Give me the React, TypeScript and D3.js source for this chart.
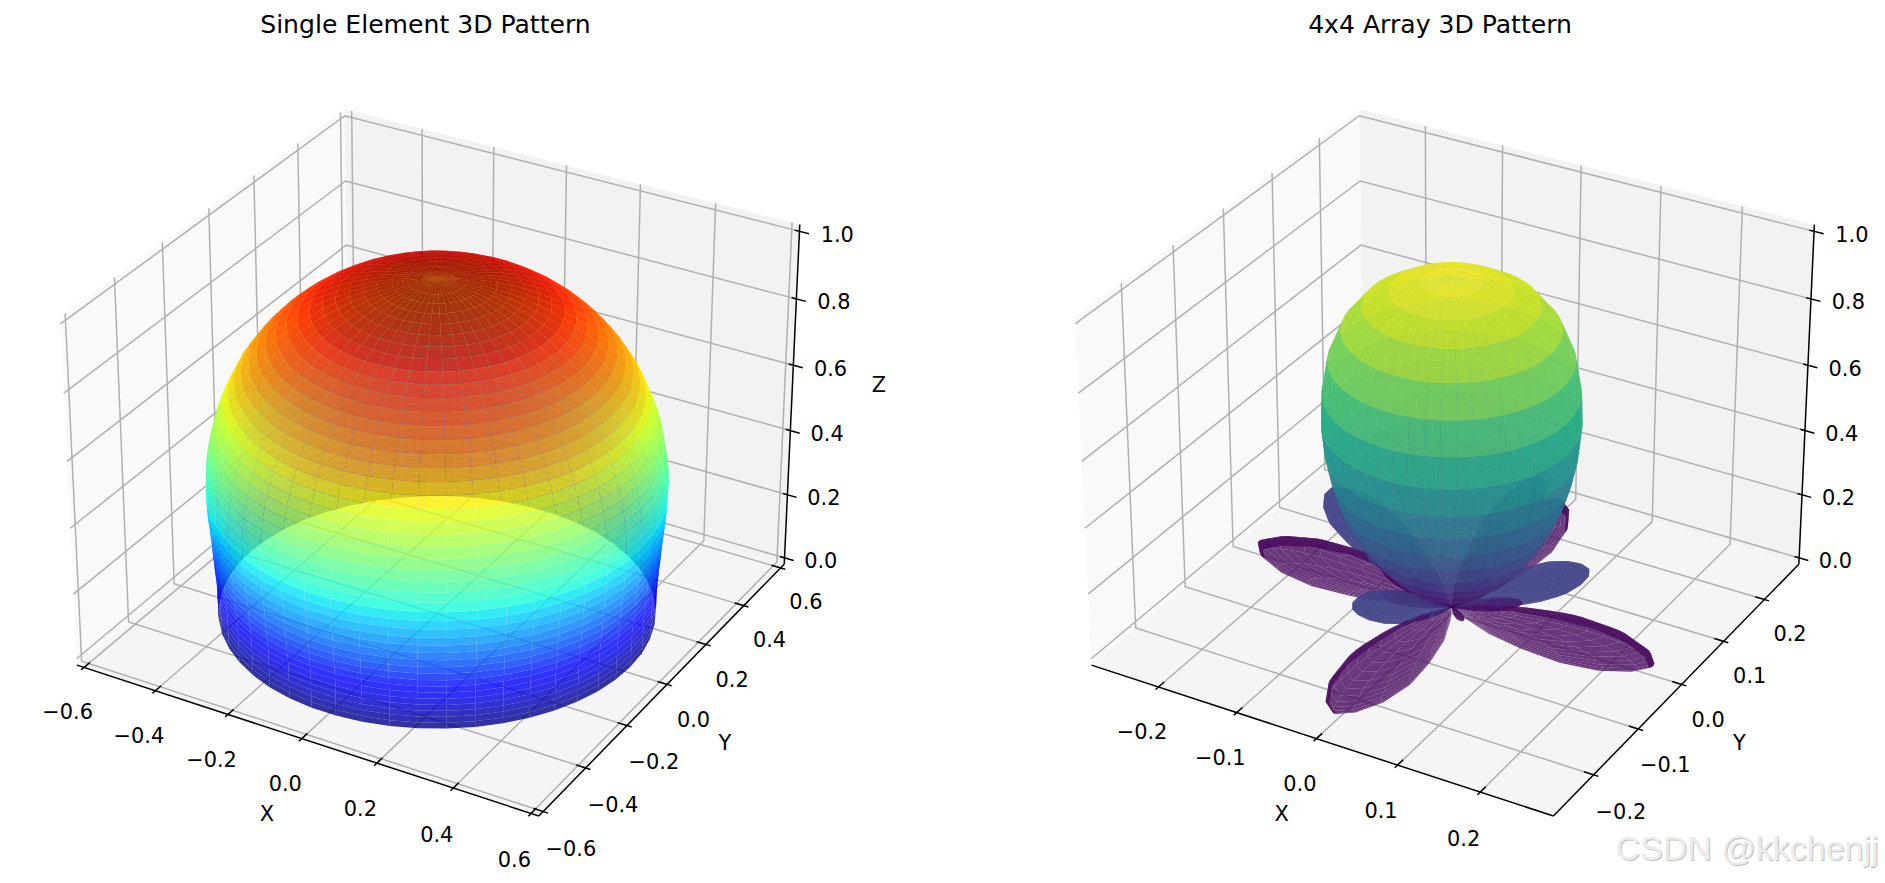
import React, { useEffect, useRef } from "react";
import * as d3 from "d3";

// axis ticks
const singleTicks = [-0.6, -0.4, -0.2, 0.0, 0.2, 0.4, 0.6];
const arrayTicks = [-0.2, -0.1, 0.0, 0.1, 0.2];
const zTicks = [0.0, 0.2, 0.4, 0.6, 0.8, 1.0];
const singleLimit = [-0.62, 0.62];
const arrayLimit = [-0.287, 0.287];
const zLimit = [-0.02, 1.02];

// single element radius read every 2 degrees of theta, pole to rim
const singleRadius = [
  0.995, 0.994, 0.992, 0.989, 0.985, 0.98, 0.974, 0.967, 0.959, 0.95, 0.94, 0.929, 0.917, 0.904, 0.89, 0.875,
  0.86, 0.844, 0.827, 0.81, 0.793, 0.776, 0.759, 0.741, 0.724, 0.707, 0.69, 0.673, 0.656, 0.64, 0.625, 0.61,
  0.597, 0.585, 0.575, 0.566, 0.557, 0.55, 0.543, 0.537, 0.533, 0.53, 0.527, 0.525, 0.524, 0.523,
];

// main lobe of the array, also every 2 degrees
const mainLobeRadius = [
  1.0, 0.985, 0.96, 0.92, 0.855, 0.77, 0.675, 0.585, 0.5, 0.425, 0.36, 0.3, 0.245, 0.195, 0.15, 0.09, 0.0,
];

// side lobes: theta (deg) and radius along the lobe axis
const lowLobeTheta = [62, 64, 66, 68, 70, 72, 74, 76, 78, 80, 82, 84, 86, 88, 90];
const lowLobeRadius = [0, 0.05, 0.09, 0.125, 0.155, 0.18, 0.2, 0.217, 0.23, 0.24, 0.247, 0.252, 0.254, 0.252, 0.247];
const sideLobeTheta = [46, 48, 50, 52, 54, 56, 58, 60, 62, 64, 66, 68, 70, 72, 74, 76, 78, 80, 82, 84, 86, 88, 90];
const sideLobeRadius = [
  0, 0.04, 0.07, 0.095, 0.115, 0.13, 0.145, 0.155, 0.163, 0.168, 0.17, 0.17, 0.168, 0.163, 0.155, 0.145, 0.13, 0.115,
  0.095, 0.07, 0.045, 0.02, 0,
];
const innerLobeTheta = [26, 28, 30, 32, 34, 36, 38, 40, 42, 44, 46, 48, 50, 52, 54, 56];
const innerLobeRadius = [0, 0.07, 0.13, 0.18, 0.22, 0.25, 0.265, 0.27, 0.265, 0.25, 0.225, 0.19, 0.15, 0.1, 0.05, 0];

// spread of a lobe around its azimuth
const spreadOffset = [-32, -27, -23, -18, -14, -9, -4, 0, 4, 9, 14, 18, 23, 27, 32];
const spreadShape = [0, 0.11, 0.28, 0.47, 0.66, 0.83, 0.95, 1, 0.95, 0.83, 0.66, 0.47, 0.28, 0.11, 0];
const sideSpreadOffset = [-36, -32, -27, -22, -17, -11, -5, 0, 5, 11, 17, 22, 27, 32, 36];
const sideSpreadShape = [0, 0.3, 0.52, 0.7, 0.83, 0.92, 0.98, 1, 0.98, 0.92, 0.83, 0.7, 0.52, 0.3, 0];

const lowLobeAzimuth = [0, 90, 180, 270];
const sideLobeAzimuth = [44, 156, 226, 318, 22, 205, 172];
const sideLobeScale = [1.0, 1.5, 0.72, 0.25, 0.5, 0.5, 0.62];
const sideLobeWidth = [0.75, 0.55, 1.1, 0.4, 0.5, 0.5, 0.5];
const sideLobeTone = [0.2, 0.2, 0.2, 0.02, 0.08, 0.08, 0.02];
const lowLobeTone = 0.02;

const jetRed = d3.scaleLinear().domain([0, 0.35, 0.66, 0.89, 1]).range([0, 0, 1, 1, 0.5]).clamp(true);
const jetGreen = d3.scaleLinear().domain([0, 0.125, 0.375, 0.64, 0.91, 1]).range([0, 0, 1, 1, 0, 0]).clamp(true);
const jetBlue = d3.scaleLinear().domain([0, 0.11, 0.34, 0.65, 1]).range([0.5, 1, 1, 0, 0]).clamp(true);
const jet = (t: number) => d3.rgb(jetRed(t) * 255, jetGreen(t) * 255, jetBlue(t) * 255).formatRgb();

const rad = Math.PI / 180;
const scale = 4447;
const dist = 10;
const boxX = 1.19;
const boxZ = 0.8926;
const fmt = (d: number) => d.toFixed(1).replace("-", "\u2212");

type Face = { points: [number, number][]; depth: number; color: string };

function makeProjection(cx: number, cy: number, lim: number[]) {
  const sx = d3.scaleLinear().domain(lim).range([-boxX / 2, boxX / 2]);
  const sz = d3.scaleLinear().domain(zLimit).range([-boxZ / 2, boxZ / 2]);
  return (x: number, y: number, z: number): [number, number, number] => {
    const a = sx(x);
    const b = sx(y);
    const c = sz(z);
    const depth = dist - (0.433 * a - 0.75 * b + 0.5 * c);
    return [
      cx + (scale * (0.866 * a + 0.5 * b)) / depth,
      cy - (scale * (-0.25 * a + 0.433 * b + 0.866 * c)) / depth,
      depth,
    ];
  };
}

// builds the quads of one theta/phi mesh
function meshFaces(
  thetas: number[],
  radii: number[],
  phis: number[],
  shape: number[],
  project: (x: number, y: number, z: number) => [number, number, number],
  colorOf: (z: number) => string,
) {
  const faces: Face[] = [];
  const vertex = (i: number, j: number) => {
    const r = radii[i] * shape[j];
    const t = thetas[i] * rad;
    const p = phis[j] * rad;
    return [r * Math.sin(t) * Math.cos(p), r * Math.sin(t) * Math.sin(p), r * Math.cos(t)];
  };
  for (let i = 0; i < thetas.length - 1; i++) {
    for (let j = 0; j < phis.length - 1; j++) {
      const corners = [vertex(i, j), vertex(i + 1, j), vertex(i + 1, j + 1), vertex(i, j + 1)];
      const projected = corners.map((c) => project(c[0], c[1], c[2]));
      faces.push({
        points: projected.map((p) => [p[0], p[1]] as [number, number]),
        depth: d3.mean(projected, (p) => p[2])!,
        color: colorOf(d3.mean(corners, (c) => c[2])!),
      });
    }
  }
  return faces;
}

const Panel3D = (
  root: d3.Selection<SVGGElement, unknown, null, undefined>,
  title: string,
  cx: number,
  lim: number[],
  ticks: number[],
  faces: Face[],
  project: (x: number, y: number, z: number) => [number, number, number],
  showZLabel: boolean,
) => {
  const line = d3.line();
  const [x0, x1] = lim;
  const [z0, z1] = zLimit;
  const span = x1 - x0;
  const zSpan = z1 - z0;
  const path = (pts: number[][]) => line(pts.map((p) => project(p[0], p[1], p[2]).slice(0, 2) as [number, number]));

  const panes = [
    { fill: "#f9f9f9", pts: [[x0, x0, z0], [x0, x1, z0], [x0, x1, z1], [x0, x0, z1]] },
    { fill: "#f2f2f2", pts: [[x0, x1, z0], [x1, x1, z0], [x1, x1, z1], [x0, x1, z1]] },
    { fill: "#f5f5f5", pts: [[x0, x0, z0], [x1, x0, z0], [x1, x1, z0], [x0, x1, z0]] },
  ];
  root.selectAll("path.pane").data(panes).join("path").attr("class", "pane")
    .attr("d", (d) => path(d.pts) + "Z").attr("fill", (d) => d.fill);

  const grid = root.append("g").attr("fill", "none").attr("stroke", "#b0b0b0").attr("stroke-width", 1.5);
  ticks.forEach((t) => {
    grid.append("path").attr("d", path([[t, x0, z0], [t, x1, z0], [t, x1, z1]]));
    grid.append("path").attr("d", path([[x1, t, z0], [x0, t, z0], [x0, t, z1]]));
  });
  zTicks.forEach((t) => {
    grid.append("path").attr("d", path([[x0, x0, t], [x0, x1, t], [x1, x1, t]]));
  });

  const axes = root.append("g").attr("fill", "none").attr("stroke", "#000").attr("stroke-width", 1.5);
  axes.append("path").attr("d", path([[x0, x0, z0], [x1, x0, z0]]));
  axes.append("path").attr("d", path([[x1, x0, z0], [x1, x1, z0]]));
  axes.append("path").attr("d", path([[x1, x1, z0], [x1, x1, z1]]));
  ticks.forEach((t) => {
    axes.append("path").attr("d", path([[t, x0 - 0.01 * span, z0], [t, x0 + 0.02 * span, z0]]));
    axes.append("path").attr("d", path([[x1 + 0.01 * span, t, z0], [x1 - 0.02 * span, t, z0]]));
  });
  zTicks.forEach((t) => {
    axes.append("path").attr("d", path([[x1 + 0.02 * span, x1, t], [x1 - 0.01 * span, x1, t]]));
  });

  root.append("g").selectAll("path")
    .data(d3.sort(faces, (a, b) => d3.descending(a.depth, b.depth)))
    .join("path")
    .attr("d", (d) => line(d.points) + "Z")
    .attr("fill", (d) => d.color)
    .attr("fill-opacity", 0.8);

  const text = root.append("g").attr("font-family", "'DejaVu Sans'").attr("font-size", 20.9).attr("text-anchor", "middle").attr("fill", "#000");
  const label = (s: string, p: [number, number, number]) =>
    text.append("text").attr("x", p[0]).attr("y", p[1]).attr("dy", "0.36em").text(s);
  ticks.forEach((t) => {
    label(fmt(t), project(t, x0 - 0.06 * span, z0 - 0.087 * zSpan));
    label(fmt(t), project(x1 + 0.058 * span, t, z0 - 0.08 * zSpan));
  });
  zTicks.forEach((t) => {
    label(fmt(t), project(x1 + 0.06 * span, x1 + 0.04 * span, t - 0.012));
  });
  label("X", project(0, x0 - 0.125 * span, z0 - 0.125 * zSpan));
  label("Y", project(x1 + 0.125 * span, 0, z0 - 0.12 * zSpan));
  if (showZLabel) label("Z", project(x1 + 0.145 * span, x1 + 0.08 * span, 0.545));

  root.append("text").attr("x", cx - 11.6).attr("y", 33).attr("text-anchor", "middle")
    .attr("font-family", "'DejaVu Sans'").attr("font-size", 25.1).attr("fill", "#000").text(title);
};

const App: React.FC = () => {
  const svgRef = useRef<SVGSVGElement | null>(null);

  useEffect(() => {
    if (!svgRef.current) return;
    const svg = d3.select(svgRef.current);
    svg.selectAll("*").remove();

    const cy = 445.6;
    const leftX = 437.1;
    const rightX = leftX + 1014.6;
    const fullCircle = d3.range(0, 360.1, 7.2);
    const flat = fullCircle.map(() => 1);

    const leftProject = makeProjection(leftX, cy, singleLimit);
    const singleTheta = singleRadius.map((_, i) => i * 2);
    const leftFaces = meshFaces(singleTheta, singleRadius, fullCircle, flat, leftProject, (z) => jet(z));
    Panel3D(svg.append("g"), "Single Element 3D Pattern", leftX, singleLimit, singleTicks, leftFaces, leftProject, true);

    const rightProject = makeProjection(rightX, cy, arrayLimit);
    const viridisZ = (z: number) => d3.interpolateViridis(z);
    const mainTheta = mainLobeRadius.map((_, i) => i * 2);
    let rightFaces = meshFaces(mainTheta, mainLobeRadius, fullCircle, flat, rightProject, viridisZ);
    rightFaces = rightFaces.concat(
      meshFaces(innerLobeTheta, innerLobeRadius, spreadOffset.map((o) => o + 85), spreadShape, rightProject, viridisZ),
    );
    lowLobeAzimuth.forEach((az) => {
      rightFaces = rightFaces.concat(
        meshFaces(lowLobeTheta, lowLobeRadius, spreadOffset.map((o) => o + az), spreadShape, rightProject, () =>
          d3.interpolateViridis(lowLobeTone),
        ),
      );
    });
    sideLobeAzimuth.forEach((az, k) => {
      rightFaces = rightFaces.concat(
        meshFaces(
          sideLobeTheta,
          sideLobeRadius.map((r) => r * sideLobeScale[k]),
          sideSpreadOffset.map((o) => o * sideLobeWidth[k] + az),
          sideSpreadShape,
          rightProject,
          () => d3.interpolateViridis(sideLobeTone[k]),
        ),
      );
    });
    Panel3D(svg.append("g"), "4x4 Array 3D Pattern", rightX, arrayLimit, arrayTicks, rightFaces, rightProject, false);

    const mark = svg.append("g").attr("text-anchor", "end").attr("font-family", "'Liberation Sans'").attr("font-size", 34);
    mark.append("text").attr("x", 1879.6).attr("y", 861.4).attr("fill", "#c2c2c2").text("CSDN @kkchenjj");
    mark.append("text").attr("x", 1878.6).attr("y", 860).attr("fill", "#ececec").text("CSDN @kkchenjj");
  }, []);

  return (
    <svg
      ref={svgRef}
      width={1885}
      height={883}
      style={{ position: "absolute", left: 0, top: 0, background: "#fff", display: "block" }}
    ></svg>
  );
};

export default App;
